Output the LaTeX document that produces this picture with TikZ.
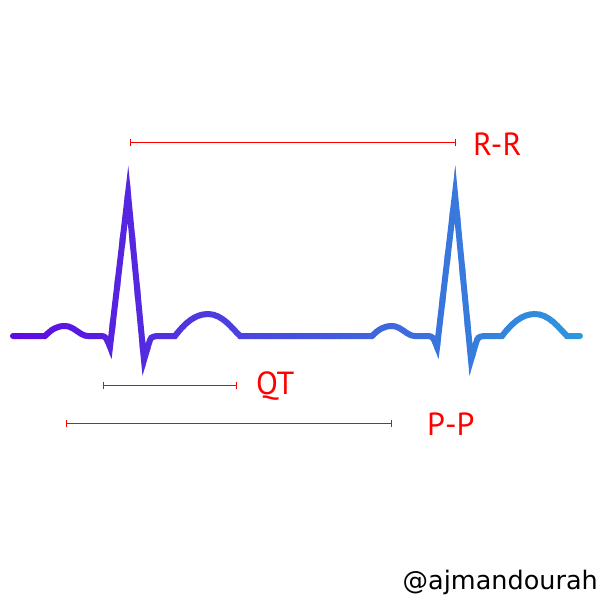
\documentclass[tikz,border=0pt]{standalone}
\usepackage{fontspec}
\setmainfont{PT Sans}
\newfontfamily\tagfont{DejaVu Sans}
\usepackage{tikz}
\usetikzlibrary{positioning}
\usetikzlibrary{arrows}
\usetikzlibrary{arrows.meta}
\definecolor{ecgleft}{RGB}{95,10,225}
\definecolor{ecgright}{RGB}{45,152,220}
\tikzset{>=latex}
\tikzstyle{ecg} = [line width=6pt, line cap=round, line join=miter, miter limit=20]
\tikzstyle{interval} = [{Bar[width=7pt]}-{Bar[width=7pt]}, draw=red, line width=1pt]
\tikzstyle{lbl} = [anchor=west, inner sep=0pt, text=red, font=\fontsize{32}{32}\selectfont]

% two beats of the trace
\def\ecgpath{(13,336) -- (45,336)
  .. controls (52,329) and (57,326) .. (65,326) .. controls (74,326) and (80,336) .. (88,336)
  -- (102,336) .. controls (106,337) .. (110,347) -- (128,194) -- (144,360) -- (149,343)
  .. controls (151,337) .. (157,336) -- (175,336)
  .. controls (185,323) and (195,314) .. (208,314) .. controls (222,314) and (232,328) .. (240,336)
  -- (372,336)
  .. controls (379,329) and (384,326) .. (392,326) .. controls (401,326) and (407,336) .. (415,336)
  -- (429,336) .. controls (433,337) .. (437,347) -- (455,194) -- (471,360) -- (476,343)
  .. controls (478,337) .. (484,336) -- (502,336)
  .. controls (512,323) and (522,314) .. (535,314) .. controls (549,314) and (559,328) .. (567,336)
  -- (580,336)}

\begin{document}
\begin{tikzpicture}[x=1pt, y=-1pt]
\useasboundingbox (0,0) rectangle (600,600);

\foreach \i in {0,...,119} {
  \pgfmathsetmacro\pct{max(0,min(100,100-(\i*5-10.5)/5.7))}
  \begin{scope}
    \clip (\i*5-0.3,100) rectangle (\i*5+5.3,420);
    \draw [ecg, draw=ecgleft!\pct!ecgright] \ecgpath;
  \end{scope}
}

\coordinate (rr1) at (130,142);
\coordinate (rr2) at (456,142);
\coordinate (qt1) at (103,385);
\coordinate (qt2) at (237,385);
\coordinate (pp1) at (66,423);
\coordinate (pp2) at (392,423);

\draw [interval] (rr1) to (rr2);
\draw [interval] (qt1) to (qt2);
\draw [interval] (pp1) to (pp2);

\node [lbl] (RR) at (473,144) {R-R};
\node [lbl] (QT) at (256,386) {QT};
\node [lbl] (PP) at (427,424) {P-P};

\node [anchor=east, inner sep=0pt, font=\tagfont\fontsize{25.5}{25.5}\selectfont] (tag) at (598,582) {@ajmandourah};
\end{tikzpicture}
\end{document}
